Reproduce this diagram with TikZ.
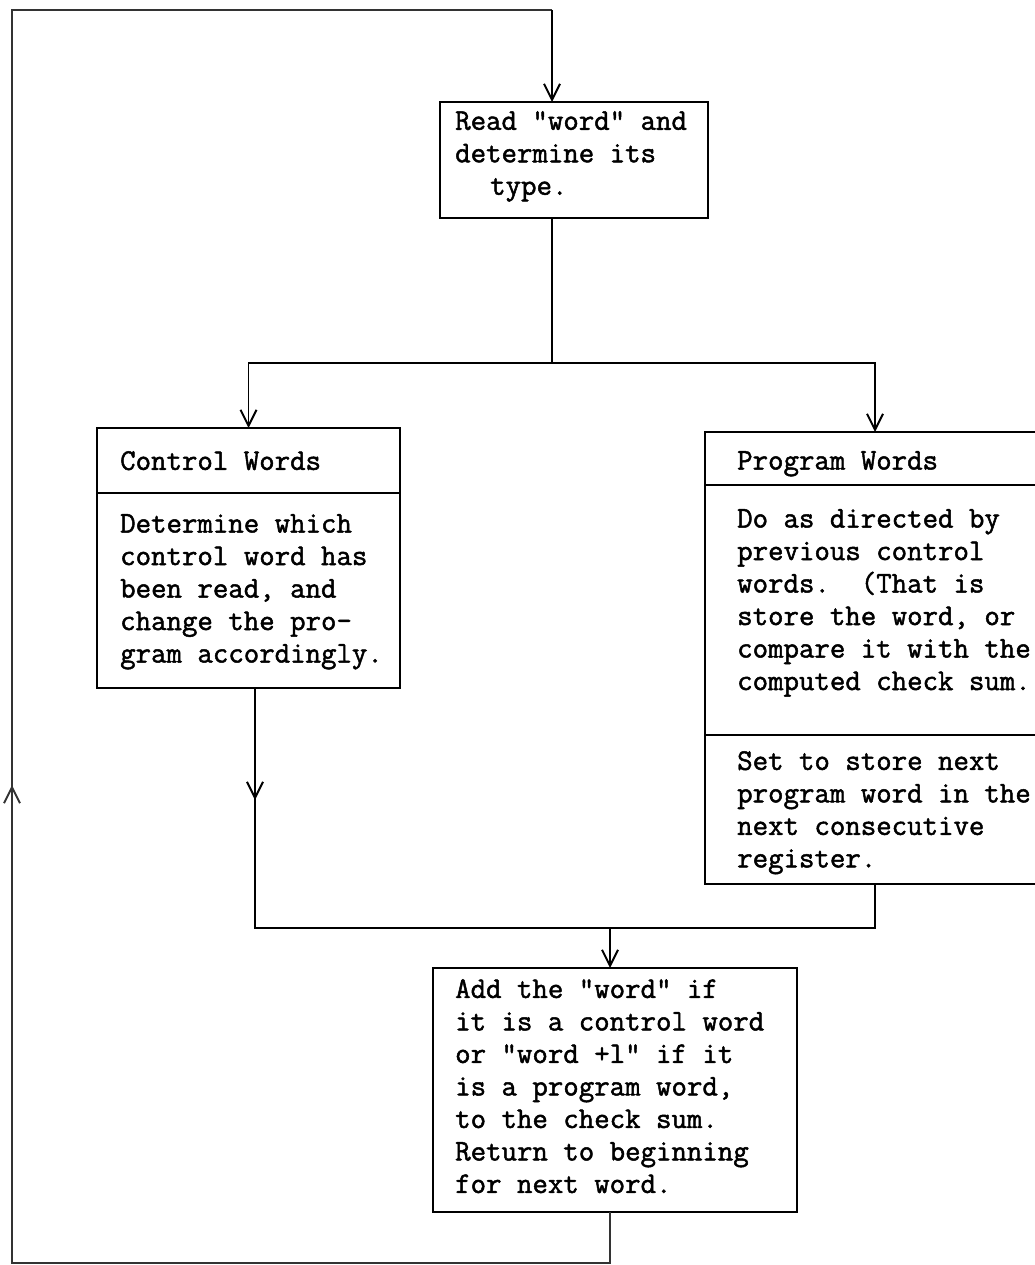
\documentclass[tikz,border=0pt]{standalone}
\usepackage{fontspec}
\newfontfamily\tw[FakeBold=1.6]{Latin Modern Mono}
\usetikzlibrary{arrows.meta,decorations.markings}
\tikzset{
  box/.style={draw, line width=1.8pt, rectangle, anchor=north west, inner sep=0pt, outer sep=0pt},
  txt/.style={anchor=north west, inner sep=0pt, align=left, font=\tw\fontsize{30}{32.5}\selectfont\frenchspacing},
  conn/.style={line width=1.6pt},
  retconn/.style={line width=1.3pt, black!80},
  arr/.style={-{Straight Barb[length=16pt,width=16pt,line width=2pt]}},
  midarr/.style={postaction={decorate}, decoration={markings, mark=at position #1 with {\arrow{Straight Barb[length=16pt,width=16pt,line width=2pt]}}}},
  divider/.style={line width=1.6pt}
}
\begin{document}
\begin{tikzpicture}[x=1pt,y=-1pt]
\useasboundingbox (0,0) rectangle (1034,1265);
% boxes
\node[box, minimum width=268pt, minimum height=116pt] (read) at (440,102) {};
\node[box, minimum width=303pt, minimum height=260pt] (ctrl) at (97,428) {};
\node[box, minimum width=340pt, minimum height=452pt] (prog) at (705,432) {};
\node[box, minimum width=364pt, minimum height=244pt] (add) at (433,968) {};
% dividers
\coordinate (cd) at (0,493);
\coordinate (pd1) at (0,485);
\coordinate (pd2) at (0,735);
\draw[divider] (ctrl.west |- cd) -- (ctrl.east |- cd);
\draw[divider] (prog.west |- pd1) -- (prog.east |- pd1);
\draw[divider] (prog.west |- pd2) -- (prog.east |- pd2);
% texts
\node[txt] (t-read) at (455,111) {Read "word" and\\determine its\\\hspace*{35pt}type.};
\node[txt] (t-ch) at (120,451) {Control Words};
\node[txt] (t-cb) at (120,514) {Determine which\\control word has\\been read, and\\change the pro-\\gram accordingly.};
\node[txt] (t-ph) at (737,451) {Program Words};
\node[txt] (t-pb1) at (737,509) {Do as directed by\\previous control\\words.\ \ (That is\\store the word, or\\compare it with the\\computed check sum.};
\node[txt] (t-pb2) at (737,751) {Set to store next\\program word in the\\next consecutive\\register.};
\node[txt] (t-add) at (455,979) {Add the "word" if\\it is a control word\\or "word +l" if it\\is a program word,\\to the check sum.\\Return to beginning\\for next word.};
% coordinates
\coordinate (sp) at (552,363);
\coordinate (jn) at (610,928);
\coordinate (lb) at (12,1263);
\coordinate (lt) at (12,10);
\coordinate (rt) at (552,10);
% connectors
\draw[conn] (read.south -| sp) -- (sp);
\draw[conn, arr] (sp) -| (ctrl.north);
\draw[conn, arr] (sp) -| (prog.north);
\draw[conn, midarr=112pt] ([xshift=6.5pt]ctrl.south) -- ([xshift=6.5pt]ctrl.south |- jn) -- (jn -| prog.south) -- (prog.south);
\draw[conn, arr] (jn) -- (jn |- add.north);
\draw[retconn, midarr=1127pt] (add.south -| jn) -- (jn |- lb) -- (lb) -- (lt) -- (rt);
\draw[conn, arr] (rt) -- (rt |- read.north);
\end{tikzpicture}
\end{document}
